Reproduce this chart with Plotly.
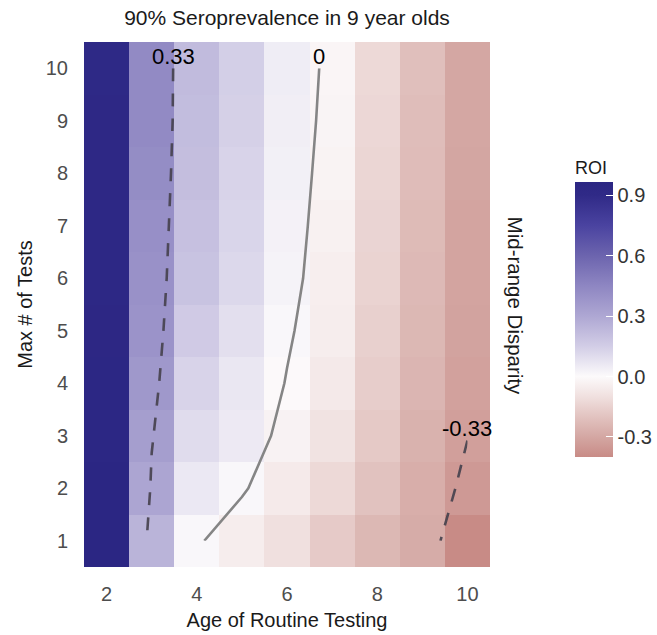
import plotly.graph_objects as go

# ---- data ----
ages = [2, 3, 4, 5, 6, 7, 8, 9, 10]
max_tests = [1, 2, 3, 4, 5, 6, 7, 8, 9, 10]

# ROI per age column, listed for max tests 1..10
roi_age2 = [0.965, 0.96, 0.955, 0.95, 0.945, 0.94, 0.935, 0.93, 0.925, 0.92]
roi_age3 = [0.25, 0.31, 0.34, 0.37, 0.39, 0.40, 0.41, 0.42, 0.43, 0.43]
roi_age4 = [0.01, 0.06, 0.10, 0.13, 0.16, 0.19, 0.20, 0.21, 0.215, 0.22]
roi_age5 = [-0.05, 0.01, 0.055, 0.065, 0.09, 0.115, 0.125, 0.13, 0.14, 0.145]
roi_age6 = [-0.10, -0.06, -0.03, -0.004, 0.01, 0.025, 0.03, 0.035, 0.04, 0.045]
roi_age7 = [-0.175, -0.125, -0.09, -0.065, -0.05, -0.045, -0.035, -0.028, -0.022, -0.018]
roi_age8 = [-0.24, -0.205, -0.18, -0.165, -0.155, -0.145, -0.14, -0.135, -0.13, -0.125]
roi_age9 = [-0.283, -0.275, -0.262, -0.25, -0.24, -0.235, -0.23, -0.225, -0.22, -0.215]
roi_age10 = [-0.40, -0.35, -0.328, -0.32, -0.315, -0.31, -0.31, -0.305, -0.30, -0.30]

contour_levels = [0.33, 0, -0.33]
colorbar_ticks = [-0.3, 0.0, 0.3, 0.6, 0.9]

title_text = "90% Seroprevalence in 9 year olds"
x_title = "Age of Routine Testing"
y_title = "Max # of Tests"
strip_text = "Mid-range Disparity"
legend_title = "ROI"

# ---- build grid ----
columns = [roi_age2, roi_age3, roi_age4, roi_age5, roi_age6,
           roi_age7, roi_age8, roi_age9, roi_age10]
z = [[col[i] for col in columns] for i in range(len(max_tests))]
zmin = min(min(c) for c in columns)
zmax = max(max(c) for c in columns)

# colour stops (value -> colour), diverging around 0
stops = [
    (-0.40, "#c88b86"), (-0.30, "#d4a7a3"), (-0.20, "#e2c3c0"), (-0.10, "#f0e0df"),
    (0.00, "#fcfafb"), (0.15, "#d2cde6"), (0.30, "#aea7d3"), (0.45, "#8e86c2"),
    (0.60, "#6c64ae"), (0.75, "#4a43a0"), (0.90, "#302a87"), (0.965, "#2b2683"),
]
colorscale = []
for v, c in stops:
    p = (v - zmin) / (zmax - zmin)
    p = min(max(p, 0.0), 1.0)
    colorscale.append([p, c])
colorscale[0][0] = 0.0
colorscale[-1][0] = 1.0

FONT = "Liberation Sans, Arial, Helvetica, sans-serif"

fig = go.Figure()
fig.add_trace(go.Heatmap(
    x=ages, y=max_tests, z=z, colorscale=colorscale, zmin=zmin, zmax=zmax,
    hoverinfo="skip", showlegend=False,
    colorbar=dict(
        title=dict(text=legend_title, side="top", font=dict(size=18, color="#1a1a1a", family=FONT)),
        tickvals=colorbar_ticks,
        ticktext=[f"{t:.1f}" for t in colorbar_ticks],
        tickfont=dict(size=20, color="#333333", family=FONT),
        ticks="inside", ticklen=7, tickcolor="white", tickwidth=1.2,
        thickness=38, thicknessmode="pixels",
        len=300, lenmode="pixels",
        x=1.2094, xanchor="left", xpad=0,
        y=0.495, yanchor="middle", ypad=0,
        outlinewidth=0,
    ),
))

for lvl in contour_levels:
    dashed = lvl != 0
    fig.add_trace(go.Contour(
        x=ages, y=max_tests, z=z,
        autocontour=False,
        contours=dict(coloring="none", start=lvl, end=lvl, size=1, showlabels=False),
        line=dict(color="rgba(70,66,78,0.92)" if dashed else "#858585",
                  width=2.6, dash="13px,12px" if dashed else "solid", smoothing=0),
        showscale=False, showlegend=False, hoverinfo="skip",
    ))


def top_point(level):
    """Highest point where the contour at `level` crosses a grid edge."""
    best = None
    ny, nx = len(z), len(z[0])
    for i in range(ny):
        for j in range(nx - 1):
            a, b = z[i][j], z[i][j + 1]
            if (a - level) * (b - level) < 0:
                t = (level - a) / (b - a)
                pt = (ages[j] + t * (ages[j + 1] - ages[j]), max_tests[i])
                if best is None or pt[1] > best[1]:
                    best = pt
    for j in range(nx):
        for i in range(ny - 1):
            a, b = z[i][j], z[i + 1][j]
            if (a - level) * (b - level) < 0:
                t = (level - a) / (b - a)
                pt = (ages[j], max_tests[i] + t * (max_tests[i + 1] - max_tests[i]))
                if best is None or pt[1] > best[1]:
                    best = pt
    return best


annotations = []
for lvl in contour_levels:
    pt = top_point(lvl)
    if pt is None:
        continue
    annotations.append(dict(
        x=pt[0], y=pt[1], xref="x", yref="y", text=f"{lvl:g}", showarrow=False,
        yshift=12, font=dict(size=22, color="black", family=FONT),
    ))

annotations.append(dict(
    x=1.096, y=0.497, xref="paper", yref="paper", text=strip_text, showarrow=False,
    textangle=90, font=dict(size=20.5, color="#1a1a1a", family=FONT),
))

fig.update_layout(
    width=657, height=635,
    showlegend=False,
    margin=dict(l=84, r=167, t=42, b=68, pad=0, autoexpand=False),
    paper_bgcolor="white", plot_bgcolor="white",
    font=dict(family=FONT),
    title=dict(text=title_text, x=0.5, xref="paper", xanchor="center",
               y=1 - 18 / 635, yref="container", yanchor="middle",
               font=dict(size=21, color="#1a1a1a", family=FONT)),
    xaxis=dict(range=[1.5, 10.5], tickvals=[2, 4, 6, 8, 10], showgrid=False, zeroline=False,
               ticks="outside", ticklen=9, tickcolor="rgba(0,0,0,0)",
               tickfont=dict(size=20, color="#4d4d4d", family=FONT),
               title=dict(text=x_title, standoff=8, font=dict(size=20, color="#1a1a1a", family=FONT))),
    yaxis=dict(range=[0.5, 10.5], tickvals=max_tests, showgrid=False, zeroline=False,
               ticks="outside", ticklen=11, tickcolor="rgba(0,0,0,0)",
               tickfont=dict(size=20, color="#4d4d4d", family=FONT),
               title=dict(text=y_title, standoff=7, font=dict(size=20, color="#1a1a1a", family=FONT))),
    annotations=annotations,
)

fig.write_html(
    "out.html",
    config={"displayModeBar": False},
    post_script="document.body.style.margin='0';document.body.style.padding='0';"
                "document.body.style.overflow='hidden';",
)
